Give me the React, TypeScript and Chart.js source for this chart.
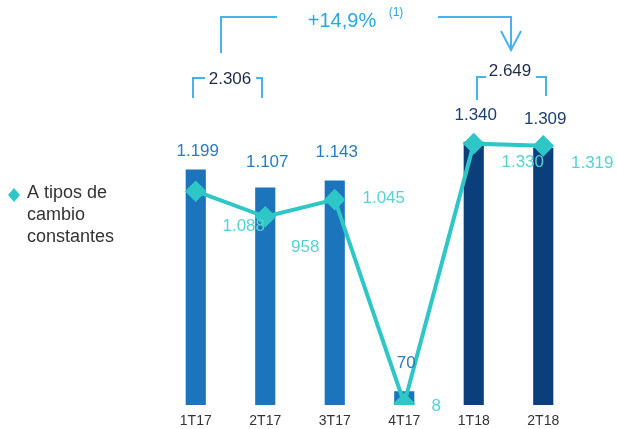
import React, { useEffect, useRef } from "react";
import { Chart, registerables } from "chart.js";

Chart.register(...registerables);

const categories = ["1T17", "2T17", "3T17", "4T17", "1T18", "2T18"];
const barValues = [1199, 1107, 1143, 70, 1340, 1309];
const constantValues = [1088, 958, 1045, 8, 1330, 1319];
const barLabels = ["1.199", "1.107", "1.143", "70", "1.340", "1.309"];
const constantLabels = ["1.088", "958", "1.045", "8", "1.330", "1.319"];
const semesterTotals = ["2.306", "2.649"];
const growthText = "+14,9%";
const growthNote = "(1)";
const legendLines = ["A tipos de", "cambio", "constantes"];

const barLabelLift = [18, 25, 28, 28, 26, 28];
const lineLabelShift = [
  [48, 35],
  [40, 31],
  [49, -1],
  [32, 3],
  [49, 19],
  [49, 17],
];

const C2017 = "#1c74bc";
const C2018 = "#0b3f7b";
const TURQ = "#2ec6c6";
const TURQ_TXT = "#55d3d3";
const ANN = "#49b2ec";
const FONT = "'Liberation Sans', Arial, sans-serif";

const overlay = {
  id: "overlay",
  afterDatasetsDraw(chart: any) {
    const ctx = chart.ctx;
    const barMeta = chart.getDatasetMeta(1);
    const lineMeta = chart.getDatasetMeta(0);
    ctx.save();
    ctx.textAlign = "center";
    ctx.textBaseline = "middle";
    ctx.font = `17px ${FONT}`;
    barMeta.data.forEach((el: any, i: number) => {
      ctx.fillStyle = i >= 4 ? "#1d3f70" : "#2a7cc2";
      ctx.fillText(barLabels[i], el.x + 2, el.y - barLabelLift[i]);
    });
    lineMeta.data.forEach((el: any, i: number) => {
      ctx.fillStyle = TURQ_TXT;
      ctx.fillText(constantLabels[i], el.x + lineLabelShift[i][0], el.y + lineLabelShift[i][1]);
    });

    ctx.strokeStyle = ANN;
    ctx.lineWidth = 2;
    ctx.fillStyle = "#1f2b45";
    ctx.font = `17px ${FONT}`;
    ctx.beginPath();
    ctx.moveTo(193, 98); ctx.lineTo(193, 78); ctx.lineTo(205, 78);
    ctx.moveTo(256, 78); ctx.lineTo(262, 78); ctx.lineTo(262, 98);
    ctx.moveTo(477, 100); ctx.lineTo(477, 77); ctx.lineTo(486, 77);
    ctx.moveTo(536, 77); ctx.lineTo(546, 77); ctx.lineTo(546, 96);
    ctx.stroke();
    ctx.fillText(semesterTotals[0], 230, 79);
    ctx.fillText(semesterTotals[1], 510, 71);

    ctx.beginPath();
    ctx.moveTo(221, 53); ctx.lineTo(221, 17); ctx.lineTo(277, 17);
    ctx.moveTo(438, 17); ctx.lineTo(511, 17); ctx.lineTo(511, 50);
    ctx.moveTo(501, 31); ctx.lineTo(511, 50); ctx.lineTo(521, 31);
    ctx.stroke();
    ctx.fillStyle = "#2aa6e6";
    ctx.font = `20px ${FONT}`;
    ctx.fillText(growthText, 342, 21);
    ctx.font = `12px ${FONT}`;
    ctx.fillText(growthNote, 396, 13);

    ctx.fillStyle = TURQ;
    ctx.beginPath();
    ctx.moveTo(14, 188); ctx.lineTo(20, 195); ctx.lineTo(14, 202); ctx.lineTo(8, 195);
    ctx.closePath();
    ctx.fill();
    ctx.fillStyle = "#333333";
    ctx.font = `18px ${FONT}`;
    ctx.textAlign = "left";
    legendLines.forEach((t, i) => ctx.fillText(t, 27, 193 + i * 22));
    ctx.restore();
  },
};

export default function App() {
  const ref = useRef<HTMLCanvasElement>(null);
  useEffect(() => {
    if (!ref.current) return;
    const chart = new Chart(ref.current, {
      type: "bar",
      data: {
        labels: categories,
        datasets: [
          {
            type: "line",
            data: constantValues,
            borderColor: TURQ,
            backgroundColor: TURQ,
            borderWidth: 4,
            pointStyle: "rectRot",
            pointRadius: 8,
            pointBackgroundColor: TURQ,
            pointBorderColor: TURQ,
            order: 0,
          } as any,
          {
            type: "bar",
            data: barValues,
            backgroundColor: categories.map((c) => (c.endsWith("18") ? C2018 : C2017)),
            barPercentage: 0.29,
            categoryPercentage: 1,
            order: 1,
          },
        ],
      },
      options: {
        responsive: false,
        animation: false,
        layout: { padding: { left: 161, right: 39, top: 9, bottom: -8.8 } },
        plugins: { legend: { display: false }, tooltip: { enabled: false } },
        scales: {
          x: {
            grid: { display: false, drawTicks: false },
            border: { display: false },
            ticks: { color: "#333333", padding: 8, font: { size: 14, family: FONT } },
          },
          y: { display: false, min: 0, max: 2000 },
        },
      },
      plugins: [overlay],
    });
    return () => chart.destroy();
  }, []);
  return (
    <div style={{ position: "absolute", left: 0, top: 0, width: 617, height: 429, background: "#fff" }}>
      <canvas ref={ref} width={617} height={429} />
    </div>
  );
}
